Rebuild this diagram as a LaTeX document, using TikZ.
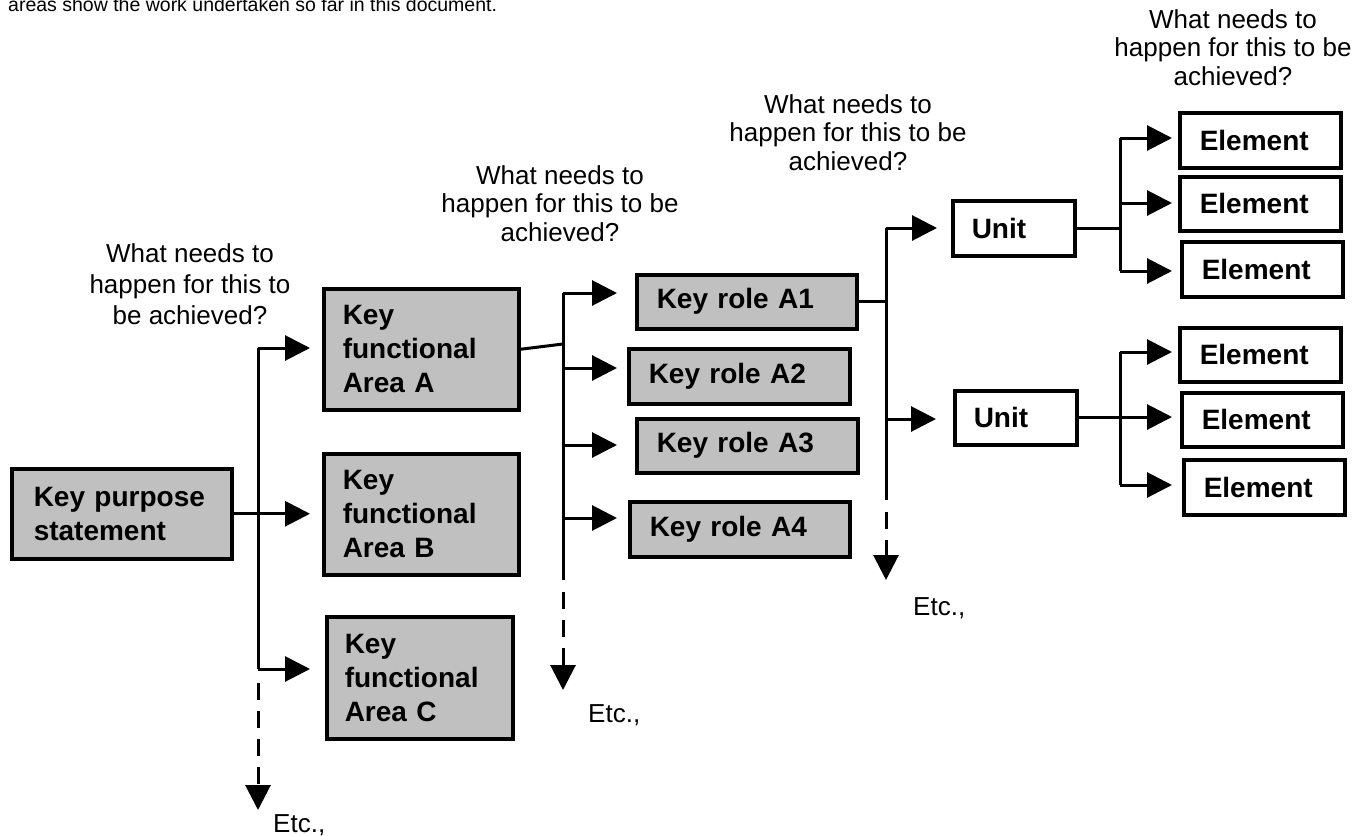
\documentclass[tikz,border=0pt]{standalone}
\usepackage{fontspec}
\setmainfont{Liberation Sans}
\usetikzlibrary{arrows.meta}
\definecolor{boxgray}{RGB}{192,192,192}
\begin{document}
\begin{tikzpicture}[x=1pt,y=-1pt,
  conn/.style={line width=3pt},
  arr/.style={line width=3pt,-{Triangle[length=25pt,width=25pt]}},
  dashconn/.style={line width=3pt,dash pattern=on 17pt off 11pt,-{Triangle[length=25pt,width=25pt]}},
  basebox/.style={draw,line width=3.5pt,anchor=north west,inner sep=0pt,align=left,
    font=\bfseries\fontsize{28}{34}\selectfont},
  graybox/.style={basebox,fill=boxgray},
  whitebox/.style={basebox,fill=white},
  qtext/.style={anchor=north,inner sep=0pt,align=center,font=\fontsize{26}{28.5}\selectfont},
  qtextwide/.style={qtext,font=\fontsize{26}{31}\selectfont},
  etctext/.style={anchor=base west,inner sep=0pt,font=\fontsize{26}{30}\selectfont}
]
\useasboundingbox (0,0) rectangle (1359,835);

% top cut-off text
\node[anchor=base west,inner sep=0pt,font=\fontsize{19.5}{23}\selectfont] (toptext) at (8,11)
  {areas show the work undertaken so far in this document.};

% boxes
\node[graybox,minimum width=220pt,minimum height=90pt,text width=176pt] (kps) at (10,467) {Key purpose\\statement};
\node[graybox,minimum width=195pt,minimum height=121pt,text width=157pt] (kfa) at (322,287) {Key\\functional\\Area A};
\node[graybox,minimum width=195pt,minimum height=121pt,text width=157pt] (kfb) at (322,452) {Key\\functional\\Area B};
\node[graybox,minimum width=186pt,minimum height=122pt,text width=150pt] (kfc) at (325,615) {Key\\functional\\Area C};

\node[graybox,minimum width=220pt,minimum height=54pt,text width=180pt] (kra1) at (635,273) {Key role A1};
\node[graybox,minimum width=221pt,minimum height=55pt,text width=181pt] (kra2) at (627,347) {Key role A2};
\node[graybox,minimum width=221pt,minimum height=54pt,text width=181pt] (kra3) at (635,417) {Key role A3};
\node[graybox,minimum width=220pt,minimum height=55pt,text width=180pt] (kra4) at (628,500) {Key role A4};

\node[whitebox,minimum width=122pt,minimum height=55pt,text width=84pt] (u1) at (951,199) {Unit};
\node[whitebox,minimum width=122pt,minimum height=54pt,text width=84pt] (u2) at (953,389) {Unit};

\node[whitebox,minimum width=161pt,minimum height=55pt,text width=121pt] (e1) at (1178,111) {Element};
\node[whitebox,minimum width=161pt,minimum height=54pt,text width=121pt] (e2) at (1178,175) {Element};
\node[whitebox,minimum width=161pt,minimum height=55pt,text width=121pt] (e3) at (1180,240) {Element};
\node[whitebox,minimum width=161pt,minimum height=54pt,text width=121pt] (e4) at (1178,326) {Element};
\node[whitebox,minimum width=161pt,minimum height=54pt,text width=121pt] (e5) at (1180,391) {Element};
\node[whitebox,minimum width=161pt,minimum height=55pt,text width=121pt] (e6) at (1182,458) {Element};

% question texts
\node[qtextwide] (q1) at (190,243) {What needs to\\happen for this to\\be achieved?};
\node[qtext] (q2) at (560,165) {What needs to\\happen for this to be\\achieved?};
\node[qtext] (q3) at (848,94) {What needs to\\happen for this to be\\achieved?};
\node[qtext] (q4) at (1233,9) {What needs to\\happen for this to be\\achieved?};

% Etc labels
\node[etctext] (etc1) at (273,832) {Etc.,};
\node[etctext] (etc2) at (588,722) {Etc.,};
\node[etctext] (etc3) at (913,615) {Etc.,};

% trunk 1
\coordinate (t1a) at (258,348);
\coordinate (t1c) at (258,669);
\coordinate (t1d) at (258,683);
\coordinate (t1end) at (258,810);
\draw[conn] (t1a) -- (t1c);
\draw[arr,shorten >=12pt] (t1a) -- (t1a -| kfa.west);
\draw[arr,shorten >=12pt] (kps.east) -- (kps.east -| kfb.west);
\draw[arr,shorten >=15pt] (t1c) -- (t1c -| kfc.west);
\draw[dashconn] (t1d) -- (t1end);

% trunk 2
\coordinate (t2j) at (563,344);
\coordinate (t2a) at (563,293);
\coordinate (t2b) at (563,368);
\coordinate (t2c) at (563,445);
\coordinate (t2d) at (563,518);
\coordinate (t2s) at (563,580);
\coordinate (t2e) at (563,592);
\coordinate (t2end) at (563,690);
\draw[conn] (kfa.east) -- (t2j);
\draw[conn] (t2a) -- (t2s);
\draw[arr,shorten >=18pt] (t2a) -- (t2a -| kra1.west);
\draw[arr,shorten >=10pt] (t2b) -- (t2b -| kra2.west);
\draw[arr,shorten >=18pt] (t2c) -- (t2c -| kra3.west);
\draw[arr,shorten >=11pt] (t2d) -- (t2d -| kra4.west);
\draw[dashconn] (t2e) -- (t2end);

% trunk 3
\coordinate (t3a) at (886,228);
\coordinate (t3b) at (886,419);
\coordinate (t3s) at (886,500);
\coordinate (t3e) at (886,512);
\coordinate (t3end) at (886,580);
\draw[conn] (kra1.east) -- (kra1.east -| t3a);
\draw[conn] (t3a) -- (t3s);
\draw[arr,shorten >=14pt] (t3a) -- (t3a -| u1.west);
\draw[arr,shorten >=17pt] (t3b) -- (t3b -| u2.west);
\draw[dashconn] (t3e) -- (t3end);

% trunk 4
\coordinate (t4a) at (1120,138);
\coordinate (t4b) at (1120,203);
\coordinate (t4c) at (1120,271);
\draw[conn] (u1.east) -- (u1.east -| t4a);
\draw[conn] (t4a) -- (t4c);
\draw[arr,shorten >=6pt] (t4a) -- (t4a -| e1.west);
\draw[arr,shorten >=6pt] (t4b) -- (t4b -| e2.west);
\draw[arr,shorten >=8pt] (t4c) -- (t4c -| e3.west);

% trunk 5
\coordinate (t5a) at (1120,352);
\coordinate (t5b) at (1120,417);
\coordinate (t5c) at (1120,485);
\draw[conn] (u2.east) -- (u2.east -| t5a);
\draw[conn] (t5a) -- (t5c);
\draw[arr,shorten >=6pt] (t5a) -- (t5a -| e4.west);
\draw[arr,shorten >=8pt] (t5b) -- (t5b -| e5.west);
\draw[arr,shorten >=10pt] (t5c) -- (t5c -| e6.west);
\end{tikzpicture}
\end{document}
